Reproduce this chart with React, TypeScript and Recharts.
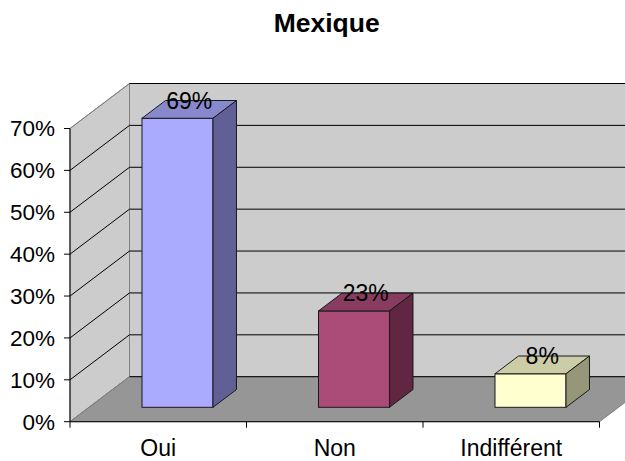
import { BarChart, Bar, XAxis, YAxis, CartesianGrid, Cell } from 'recharts'

const categories = ['Oui', 'Non', 'Indifférent']
const shares = [0.69, 0.23, 0.08]
const yTicks = [0, 0.1, 0.2, 0.3, 0.4, 0.5, 0.6, 0.7]

const frontColors = ['#AAAAFF', '#AA4B78', '#FFFFD0']
const topColors = ['#8888CC', '#883C60', '#CCCCA6']
const sideColors = ['#606096', '#602642', '#969678']

const data = categories.map((name, i) => ({ name, value: shares[i] }))

// décalage de profondeur de la "boîte" 3D (mur du fond)
const DX = 59.5
const DY = 45
// position de la face avant des barres et profondeur des barres (fractions de DX/DY)
const FRONT = 0.32
const DEPTH = 0.395

const FONT = '"Liberation Sans", Arial, sans-serif'

const pct = (v: unknown): string => {
  const n = typeof v === 'number' ? v : Number(v)
  if (!Number.isFinite(n)) return ''
  return `${Math.round(n * 100)}%`
}

const GridLine = (props: any) => {
  const { x, y, width, height, y1, index } = props
  const bottom = y + height
  const isBottom = Math.abs(y1 - bottom) < 0.5
  const isTop = Math.abs(y1 - y) < 0.5
  const n = categories.length

  return (
    <g key={`grid-${index}`}>
      {index === 0 && (
        <g>
          <rect x={x + DX} y={y - DY} width={width} height={height} fill="#CCCCCC" stroke="#808080" />
          <polygon
            points={`${x},${y} ${x + DX},${y - DY} ${x + DX},${bottom - DY} ${x},${bottom}`}
            fill="#CCCCCC"
            stroke="#808080"
          />
          <polygon
            points={`${x},${bottom} ${x + width},${bottom} ${x + width + DX},${bottom - DY} ${x + DX},${bottom - DY}`}
            fill="#969696"
            stroke="#808080"
          />
          {Array.from({ length: n + 1 }, (_, i) => (
            <line
              key={`xt-${i}`}
              x1={x + (i * width) / n}
              x2={x + (i * width) / n}
              y1={bottom}
              y2={bottom + 6}
              stroke="#000"
            />
          ))}
        </g>
      )}
      <line
        x1={x}
        y1={y1}
        x2={x + DX}
        y2={y1 - DY}
        stroke={isTop || isBottom ? '#808080' : '#000'}
      />
      <line x1={x + DX} y1={y1 - DY} x2={x + width + DX} y2={y1 - DY} stroke="#000" />
    </g>
  )
}

const Box3D = (props: any) => {
  const { x, y, width, height, index, payload } = props
  const fx = x + DX * FRONT
  const fy = y - DY * FRONT
  const dx = DX * DEPTH
  const dy = DY * DEPTH
  const edge = '#1a1a1a'

  return (
    <g>
      <rect x={fx} y={fy} width={width} height={height} fill={frontColors[index]} stroke={edge} />
      <polygon
        points={`${fx},${fy} ${fx + dx},${fy - dy} ${fx + width + dx},${fy - dy} ${fx + width},${fy}`}
        fill={topColors[index]}
        stroke={edge}
      />
      <polygon
        points={`${fx + width},${fy} ${fx + width + dx},${fy - dy} ${fx + width + dx},${fy + height - dy} ${fx + width},${fy + height}`}
        fill={sideColors[index]}
        stroke={edge}
      />
      <text
        x={fx + width / 2 + dx / 2}
        y={fy - dy}
        textAnchor="middle"
        dominantBaseline="central"
        fontSize={23}
        fontFamily={FONT}
        fill="#000"
      >
        {pct(payload?.value)}
      </text>
    </g>
  )
}

export default function App() {
  return (
    <div style={{ position: 'absolute', left: 0, top: 0, width: 625, height: 461, background: '#fff' }}>
      <div
        style={{
          position: 'absolute',
          left: 0,
          top: 9.7,
          width: 653.4,
          textAlign: 'center',
          fontFamily: FONT,
          fontWeight: 'bold',
          fontSize: 26.5,
          lineHeight: '26px',
          color: '#000',
        }}
      >
        Mexique
      </div>
      <BarChart
        width={625}
        height={461}
        data={data}
        margin={{ top: 128.5, right: 25.5, bottom: 9.3, left: 0 }}
        barCategoryGap="30%"
      >
        <CartesianGrid vertical={false} horizontal={GridLine} />
        <XAxis
          dataKey="name"
          height={30}
          tickLine={false}
          axisLine={{ stroke: '#000' }}
          tickMargin={11.5}
          tick={{ fill: '#000', fontSize: 23, fontFamily: FONT }}
        />
        <YAxis
          width={70}
          domain={[0, 0.7]}
          ticks={yTicks}
          tickFormatter={pct}
          tickSize={6}
          tickMargin={9}
          axisLine={{ stroke: '#000' }}
          tickLine={{ stroke: '#000' }}
          tick={{ fill: '#000', fontSize: 22.5, fontFamily: FONT }}
        />
        <Bar dataKey="value" shape={Box3D} isAnimationActive={false}>
          {data.map((d, i) => (
            <Cell key={d.name} fill={frontColors[i]} />
          ))}
        </Bar>
      </BarChart>
    </div>
  )
}
